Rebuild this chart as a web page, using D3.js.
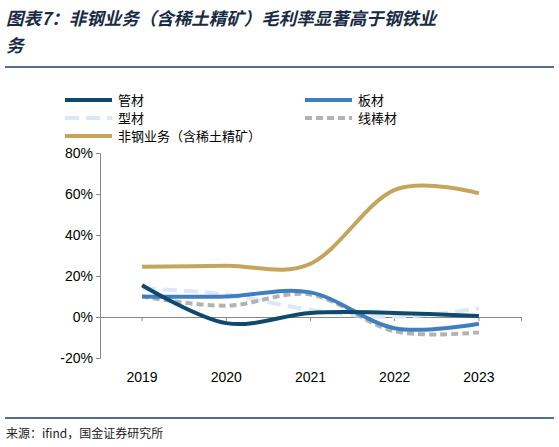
<!DOCTYPE html><html><head><meta charset="utf-8"><script src="https://cdn.jsdelivr.net/npm/d3@7"></script>
<style>body{margin:0;background:#fff}</style></head><body><svg id="c" width="559" height="447"></svg>
<script>
const years=["2019","2020","2021","2022","2023"];
const guan=[15.5,-3,2,2,0.5];
const ban=[10,10,12,-5.5,-3.3];
const xing=[14,11,3.5,0,4.2];
const xianbang=[10,5.5,11,-7,-7.5];
const feigang=[24.5,25,26,62,60.3];
const yTicks=[-20,0,20,40,60,80];
const series=[
 {name:"管材",v:guan,c:"#0d4a6e",d:null},
 {name:"板材",v:ban,c:"#3f7fc1",d:null},
 {name:"型材",v:xing,c:"#dce8f5",d:"14,7"},
 {name:"线棒材",v:xianbang,c:"#b3b3b3",d:"7,4"},
 {name:"非钢业务（含稀土精矿）",v:feigang,c:"#c5a55c",d:null}];
const svg=d3.select("#c");
const F="'Noto Sans CJK SC',sans-serif";
svg.append("text").attr("x",6).attr("y",25).attr("font-family",F).attr("font-size",17.5).attr("font-style","italic").attr("font-weight","bold").attr("fill","#1a2b44").text("图表7：非钢业务（含稀土精矿）毛利率显著高于钢铁业");
svg.append("text").attr("x",6).attr("y",52).attr("font-family",F).attr("font-size",17.5).attr("font-style","italic").attr("font-weight","bold").attr("fill","#1a2b44").text("务");
svg.append("line").attr("x1",5).attr("x2",554).attr("y1",67).attr("y2",67).attr("stroke","#1f3f66").attr("stroke-width",1.5);
svg.append("line").attr("x1",5).attr("x2",554).attr("y1",418).attr("y2",418).attr("stroke","#1f3f66").attr("stroke-width",1.5);
svg.append("text").attr("x",6).attr("y",438).attr("font-family",F).attr("font-size",12).attr("fill","#222").text("来源：ifind，国金证券研究所");
const x=d3.scaleBand().domain(years).range([100,521]);
const y=d3.scaleLinear().domain([-20,80]).range([358,153]);
const gy=svg.append("g").attr("transform","translate(100,0)").call(d3.axisLeft(y).tickValues(yTicks).tickFormat(d=>d+"%").tickSize(4));
gy.selectAll("text").attr("font-family","Arial, Liberation Sans").attr("font-size",14).attr("fill","#000");
gy.selectAll("path,line").attr("stroke","#888");
const gx=svg.append("g").attr("transform","translate(0,"+y(0)+")").call(d3.axisBottom(x).tickSize(4).tickFormat(""));
gx.selectAll("path,line").attr("stroke","#888");
years.forEach(yr=>svg.append("text").attr("x",x(yr)+x.bandwidth()/2).attr("y",382).attr("text-anchor","middle").attr("font-family","Arial, Liberation Sans").attr("font-size",14).text(yr));
const line=d3.line().x((d,i)=>x(years[i])+x.bandwidth()/2).y(d=>y(d)).curve(d3.curveCardinal.tension(0));
[2,3,1,0,4].forEach(k=>{const s=series[k];svg.append("path").attr("d",line(s.v)).attr("fill","none").attr("stroke",s.c).attr("stroke-width",4).attr("stroke-dasharray",s.d);});
const leg=[[65,100,0],[305,100,1],[65,118,2],[305,118,3],[65,136,4]];
leg.forEach(([lx,ly,k])=>{const s=series[k];svg.append("line").attr("x1",lx).attr("x2",lx+47).attr("y1",ly).attr("y2",ly).attr("stroke",s.c).attr("stroke-width",4).attr("stroke-dasharray",s.d);
svg.append("text").attr("x",lx+53).attr("y",ly+5).attr("font-family",F).attr("font-size",13).text(s.name);});
</script></body></html>
